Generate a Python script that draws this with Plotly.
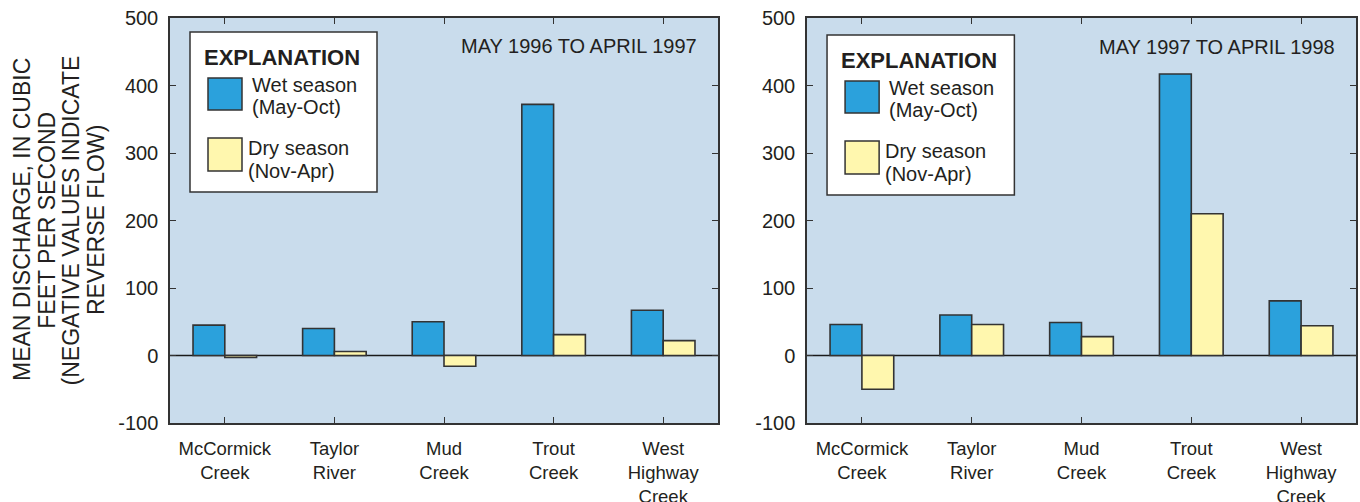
import plotly.graph_objects as go

categories = ["McCormick<br>Creek", "Taylor<br>River", "Mud<br>Creek", "Trout<br>Creek", "West<br>Highway<br>Creek"]
wet_9697 = [45, 40, 50, 372, 67]
dry_9697 = [-3, 6, -16, 31, 22]
wet_9798 = [46, 60, 49, 417, 81]
dry_9798 = [-50, 46, 28, 210, 44]
y_ticks = [-100, 0, 100, 200, 300, 400, 500]
y_tick_text = ["-100", "0", "100", "200", "300", "400", "500"]
panel_titles = ["MAY 1996 TO APRIL 1997", "MAY 1997 TO APRIL 1998"]
y_title_lines = ["MEAN DISCHARGE, IN CUBIC", "FEET PER SECOND", "(NEGATIVE VALUES INDICATE", "REVERSE FLOW)"]
legend_wet = ["Wet season", "(May-Oct)"]
legend_dry = ["Dry season", "(Nov-Apr)"]

WET = "#2ba1dc"
DRY = "#fff7ae"
BG = "#c9dcec"
EDGE = "#333333"
TXT = "#231f20"
FONT = "Liberation Sans, Arial, sans-serif"
W, H = 1360, 502
ML, MR, MT, MB = 170, 4, 18, 79
PW = W - ML - MR
PH = H - MT - MB

fig = go.Figure()
x_idx = list(range(len(categories)))
for i, (wet, dry) in enumerate([(wet_9697, dry_9697), (wet_9798, dry_9798)]):
    xa = "x" if i == 0 else "x2"
    ya = "y" if i == 0 else "y2"
    fig.add_trace(go.Bar(x=x_idx, y=wet, name="Wet season (May-Oct)", marker=dict(color=WET, line=dict(color=EDGE, width=1.6)),
                         xaxis=xa, yaxis=ya, showlegend=False, offsetgroup="wet"))
    fig.add_trace(go.Bar(x=x_idx, y=dry, name="Dry season (Nov-Apr)", marker=dict(color=DRY, line=dict(color=EDGE, width=1.6)),
                         xaxis=xa, yaxis=ya, showlegend=False, offsetgroup="dry"))

xdoms = [[0, 548 / PW], [(807 - ML) / PW, 1]]

axis_common = dict(showline=True, linecolor=EDGE, linewidth=1.5, mirror="ticks", ticks="inside",
                   ticklen=6, tickcolor=EDGE, tickwidth=1.2, showgrid=False, zeroline=False)

layout = dict(width=W, height=H, margin=dict(l=ML, r=MR, t=MT, b=MB, autoexpand=False), paper_bgcolor="white",
              plot_bgcolor=BG, barmode="group", bargap=0.42, bargroupgap=0, showlegend=False,
              font=dict(family=FONT, color=TXT))
for i in range(2):
    sx = "" if i == 0 else "2"
    layout["xaxis" + sx] = dict(domain=xdoms[i], range=[-0.5, 4.5], tickvals=x_idx, ticktext=categories,
                                anchor="y" + sx, ticklabelstandoff=8, automargin=False,
                                tickfont=dict(family=FONT, size=18.5, color=TXT), **axis_common)
    layout["yaxis" + sx] = dict(domain=[0, 1], range=[-100, 500], tickvals=y_ticks, ticktext=y_tick_text,
                                anchor="x" + sx, ticklabelstandoff=6, automargin=False,
                                tickfont=dict(family=FONT, size=20, color=TXT), **axis_common)
fig.update_layout(**layout)


def fy(px):
    """pixel row within a panel -> y domain fraction"""
    return (H - MB - px) / PH


shapes = []
annotations = []
for i in range(2):
    sx = "" if i == 0 else "2"
    xr = "x" + sx + " domain"
    yr = "y" + sx + " domain"
    yref_data = "y" + sx
    shapes.append(dict(type="line", xref=xr, yref=yref_data, x0=0, x1=1, y0=0, y1=0,
                       line=dict(color="#1a1a1a", width=1.5), layer="below"))
    d = 0 if i == 0 else 3
    shapes.append(dict(type="rect", xref=xr, yref=yr, x0=20 / 548, x1=207 / 548, y0=fy(192 + d), y1=fy(32 + d),
                       fillcolor="white", line=dict(color=EDGE, width=1.5)))
    shapes.append(dict(type="rect", xref=xr, yref=yr, x0=38 / 548, x1=72 / 548, y0=fy(110 + d), y1=fy(78 + d),
                       fillcolor=WET, line=dict(color=EDGE, width=1.5)))
    shapes.append(dict(type="rect", xref=xr, yref=yr, x0=38 / 548, x1=72 / 548, y0=fy(171 + d), y1=fy(138 + d),
                       fillcolor=DRY, line=dict(color=EDGE, width=1.5)))
    annotations.append(dict(xref=xr, yref=yr, x=32 / 548, y=fy(57 + d), xanchor="left", yanchor="middle",
                            text="<b>EXPLANATION</b>", showarrow=False, font=dict(family=FONT, size=22, color=TXT)))
    for k, t in enumerate(legend_wet):
        annotations.append(dict(xref=xr, yref=yr, x=80 / 548, y=fy(85 + 22 * k + d), xanchor="left", yanchor="middle",
                                text=t, showarrow=False, font=dict(family=FONT, size=20, color=TXT)))
    for k, t in enumerate(legend_dry):
        annotations.append(dict(xref=xr, yref=yr, x=76 / 548, y=fy(148 + 23 * k + d), xanchor="left", yanchor="middle",
                                text=t, showarrow=False, font=dict(family=FONT, size=20, color=TXT)))
    annotations.append(dict(xref=xr, yref=yr, x=0.965, y=fy(46 + d / 3), xanchor="right", yanchor="middle",
                            text=panel_titles[i], showarrow=False, font=dict(family=FONT, size=20, color=TXT)))

for k, line in enumerate(y_title_lines):
    annotations.append(dict(xref="paper", yref="paper", x=(22 + 24.7 * k - ML) / PW, y=fy(220),
                            xanchor="center", yanchor="middle",
                            text=line, textangle=-90, showarrow=False, font=dict(family=FONT, size=23, color=TXT)))

fig.update_layout(shapes=shapes, annotations=annotations)
fig.write_html("out.html", config={"displayModeBar": False}, post_script="document.body.style.margin='0';")
